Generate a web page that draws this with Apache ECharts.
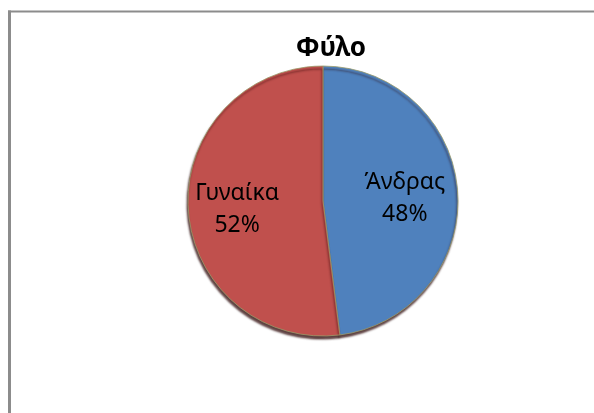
<!DOCTYPE html>
<html>
<head>
<meta charset="utf-8">
<script src="https://cdn.jsdelivr.net/npm/echarts@6/dist/echarts.min.js"></script>
<style>
html,body{margin:0;padding:0;background:#fff;overflow:hidden;}
#chart{width:594px;height:413px;}
</style>
</head>
<body>
<div id="chart"></div>
<script>
const title = 'Φύλο';
const categories = ['Άνδρας', 'Γυναίκα'];
const values = [48, 52];
const colors = ['#4F81BD', '#C0504D'];

const data = categories.map((c, i) => ({ name: c, value: values[i], itemStyle: { color: colors[i] } }));

const chart = echarts.init(document.getElementById('chart'));
chart.setOption({
  animation: false,
  backgroundColor: '#fff',
  title: {
    text: title,
    left: 326,
    textAlign: 'center',
    top: 31,
    textStyle: { fontFamily: 'Noto Sans', fontWeight: 'bold', fontSize: 26, color: '#000' }
  },
  graphic: [
    {
      type: 'line',
      shape: { x1: 8, y1: 11.5, x2: 594, y2: 11.5 },
      style: { stroke: '#8c8c8c', lineWidth: 2 },
      silent: true
    },
    {
      type: 'line',
      shape: { x1: 9.5, y1: 10.5, x2: 9.5, y2: 413 },
      style: { stroke: '#8c8c8c', lineWidth: 3 },
      silent: true
    }
  ],
  series: [
    {
      type: 'pie',
      center: [323, 201],
      radius: [0, 135],
      startAngle: 90,
      clockwise: true,
      silent: true,
      label: { show: false },
      labelLine: { show: false },
      itemStyle: {
        borderColor: '#9a9a6a',
        borderWidth: 0.8,
        shadowColor: 'rgba(40,0,0,0.75)',
        shadowBlur: 2,
        shadowOffsetY: 3,
        shadowOffsetX: -1
      },
      data: data
    },
    {
      type: 'pie',
      center: [321, 204],
      radius: [0, 162],
      startAngle: 90,
      clockwise: true,
      silent: true,
      itemStyle: { color: 'rgba(0,0,0,0)' },
      label: {
        show: true,
        position: 'inside',
        formatter: p => p.name + '\n' + Math.round(p.percent) + '%',
        fontFamily: 'Noto Sans',
        fontSize: 23,
        lineHeight: 32,
        color: '#000'
      },
      labelLine: { show: false },
      data: data.map(d => ({ name: d.name, value: d.value }))
    }
  ]
});
</script>
</body>
</html>
